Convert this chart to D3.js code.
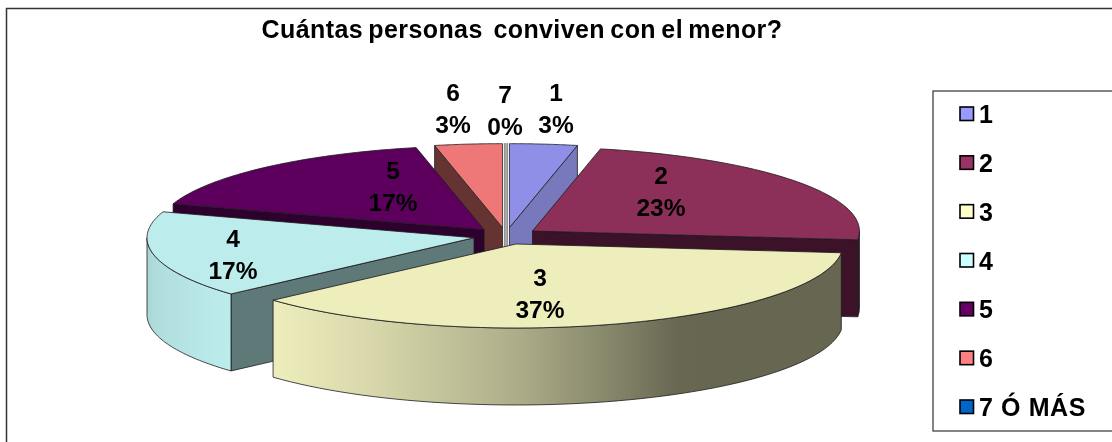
<!DOCTYPE html>
<html><head><meta charset="utf-8">
<style>html,body{margin:0;padding:0;background:#fff;overflow:hidden}svg{display:block;filter:blur(0.35px)}text{font-family:"Liberation Sans",Arial,sans-serif;fill:#000}</style>
<script src="https://cdn.jsdelivr.net/npm/d3@7/dist/d3.min.js"></script>
</head><body><svg id="c" width="1112" height="442"></svg>
<script>
const titleText = "Cuántas personas  conviven con el menor?";
const categories = ["1","2","3","4","5","6","7"];
const legendLabels = ["1","2","3","4","5","6","7 Ó MÁS"];
const counts = [1,7,11,5,5,1,0];
const topColors = ["#8f8fe8","#8c2f59","#eeeebd","#bcecec","#5d005d","#ee7777","#0066cc"];
const faceColors = ["#7878bd","#3c1228","#66664f","#5f7878","#2e002e","#663333","#888888"];
const legendColors = ["#9999ff","#993366","#ffffcc","#ccffff","#660066","#ff8080","#0066cc"];
const labelAnchors = [[556,92],[661,175],[540,277],[233,238],[393,170],[453,92],[505,94]];

const W=1112,H=442, cx=506, cy=236, rx=327, ry=84, depth=77, explode=0.1;
const svg=d3.select("#c");
svg.append("rect").attr("x",6.5).attr("y",8.5).attr("width",1200).attr("height",600).attr("fill","#fff").attr("stroke","#333").attr("stroke-width",1.5);

const pie=d3.pie().sort(null).value(d=>d);
const arcs=pie(counts).map((a,i)=>({...a,i,mid:(a.startAngle+a.endAngle)/2}));
const defs=svg.append("defs");
const px=(a,r,c)=>c.x+rx*r*Math.sin(a), py=(a,r,c)=>c.y-ry*r*Math.cos(a);
const line=d3.line().x(d=>d[0]).y(d=>d[1]);
const shade=d3.scaleLinear().domain([Math.PI/2,150*Math.PI/180,Math.PI,205*Math.PI/180,228*Math.PI/180,1.5*Math.PI]).range([.43,.43,.73,.9,1,.9]).clamp(true);
const centre=a=>({x:cx+rx*explode*Math.sin(a.mid),y:cy-ry*explode*Math.cos(a.mid)});
const samples=(a0,a1,c)=>d3.range(0,61).map(k=>{const t=a0+(a1-a0)*k/60;return [px(t,1,c),py(t,1,c)]});
const order=arcs.slice().sort((p,q)=>d3.ascending(-Math.cos(p.mid),-Math.cos(q.mid)));
const stroke="#1c1c1c", sw=.8;

order.forEach(a=>{
  const c=centre(a), g=svg.append("g");
  if(a.startAngle===a.endAngle){
    const pts=[[px(a.mid,1,c),py(a.mid,1,c)-.5],[c.x,c.y+depth]];
    g.append("path").attr("d",line(pts)).attr("stroke","#777").attr("stroke-width",3.6).attr("fill","none");
    g.append("path").attr("d",line(pts)).attr("stroke","#ddd").attr("stroke-width",1).attr("fill","none");
    return;
  }
  [[a.startAngle,Math.sin(a.startAngle)<-1e-6],[a.endAngle,Math.sin(a.endAngle)>1e-6]].forEach(([t,vis])=>{
    if(!vis) return;
    const ox=px(t,1,c),oy=py(t,1,c);
    g.append("path").attr("d",line([[c.x,c.y],[ox,oy],[ox,oy+depth],[c.x,c.y+depth]])+"Z")
      .attr("fill",faceColors[a.i]).attr("stroke",stroke).attr("stroke-width",sw).attr("stroke-linejoin","round");
  });
  const r0=Math.max(a.startAngle,Math.PI/2), r1=Math.min(a.endAngle,1.5*Math.PI);
  if(r1>r0){
    const id="rim"+a.i, xs=[px(r0,1,c),px(r1,1,c)];
    const gr=defs.append("linearGradient").attr("id",id).attr("gradientUnits","userSpaceOnUse")
      .attr("x1",xs[0]).attr("x2",xs[1]).attr("y1",0).attr("y2",0);
    d3.range(0,25).forEach(k=>{
      const t=r0+(r1-r0)*k/24;
      gr.append("stop").attr("offset",(px(t,1,c)-xs[0])/(xs[1]-xs[0])).attr("stop-color",d3.interpolateRgb("#000",topColors[a.i])(shade(t)));
    });
    const up=samples(r0,r1,c), down=up.slice().reverse().map(p=>[p[0],p[1]+depth]);
    g.append("path").attr("d",line(up.concat(down))+"Z").attr("fill",`url(#${id})`).attr("stroke",stroke).attr("stroke-width",sw).attr("stroke-linejoin","round");
  }
  g.append("path").attr("d",line([[c.x,c.y]].concat(samples(a.startAngle,a.endAngle,c)))+"Z")
    .attr("fill",topColors[a.i]).attr("stroke",stroke).attr("stroke-width",sw).attr("stroke-linejoin","round");
});

const total=d3.sum(counts), pct=d3.format(".0%");
arcs.forEach(a=>{
  const [x,y]=labelAnchors[a.i];
  svg.append("text").attr("x",x).attr("y",y+9).attr("text-anchor","middle").attr("font-size",24.5).attr("font-weight","bold").text(categories[a.i]);
  svg.append("text").attr("x",x).attr("y",y+40.5).attr("text-anchor","middle").attr("font-size",24.5).attr("font-weight","bold").text(pct(a.value/total));
});

svg.append("text").attr("x",522).attr("y",38).attr("text-anchor","middle").attr("font-size",25).attr("letter-spacing",.4).attr("word-spacing",-2).attr("font-weight","bold").attr("xml:space","preserve").style("white-space","pre").text(titleText);

svg.append("rect").attr("x",933).attr("y",91).attr("width",300).attr("height",340).attr("fill","#fff").attr("stroke","#333").attr("stroke-width",1.2);
const ly=d3.scalePoint().domain(legendLabels).range([114,407]);
legendLabels.forEach((l,i)=>{
  const y=ly(l);
  svg.append("rect").attr("x",960).attr("y",y-7).attr("width",13.5).attr("height",13.5).attr("fill",legendColors[i]).attr("stroke","#000").attr("stroke-width",1.6);
  svg.append("text").attr("x",979).attr("y",y+9).attr("font-size",25).attr("letter-spacing",.6).attr("font-weight","bold").text(l);
});
</script></body></html>
